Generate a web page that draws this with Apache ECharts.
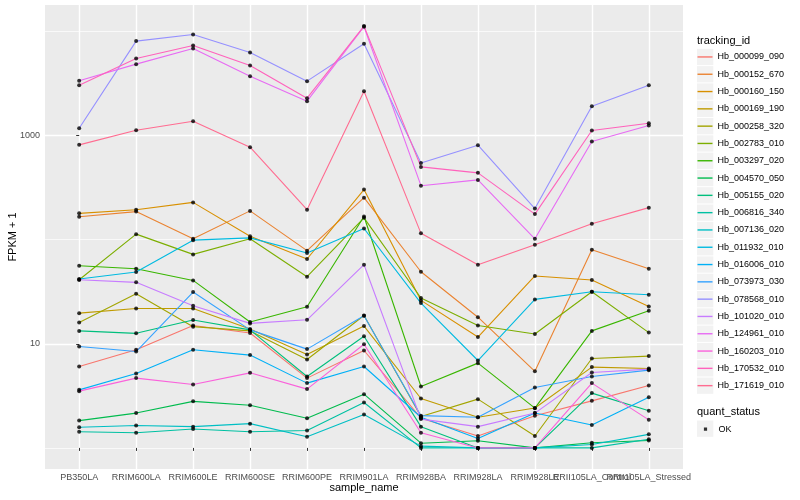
<!DOCTYPE html>
<html><head><meta charset="utf-8">
<script src="https://cdn.jsdelivr.net/npm/echarts@6/dist/echarts.min.js"></script>
<style>html,body{margin:0;padding:0;background:#fff}#c{width:800px;height:500px}</style>
</head><body><div id="c"></div>
<script>
// ---------- data ----------
const categories = ['PB350LA','RRIM600LA','RRIM600LE','RRIM600SE','RRIM600PE','RRIM901LA','RRIM928BA','RRIM928LA','RRIM928LE','RRII105LA_Control','RRII105LA_Stressed'];
const trackingIds = ['Hb_000099_090','Hb_000152_670','Hb_000160_150','Hb_000169_190','Hb_000258_320','Hb_002783_010','Hb_003297_020','Hb_004570_050','Hb_005155_020','Hb_006816_340','Hb_007136_020','Hb_011932_010','Hb_016006_010','Hb_073973_030','Hb_078568_010','Hb_101020_010','Hb_124961_010','Hb_160203_010','Hb_170532_010','Hb_171619_010'];
// FPKM + 1 per sample
const hb_000099_090 = [6.05, 8.75, 15.0, 12.7, 4.68, 8.62, 1.93, 1.30, 2.04, 2.83, 3.97];
const hb_000152_670 = [166, 186, 102, 189, 78.4, 253, 49.2, 18.0, 5.44, 80.1, 52.6];
const hb_000160_150 = [179, 194, 228, 108, 65.2, 303, 26.1, 11.6, 44.8, 41.0, 22.8];
const hb_000169_190 = [19.7, 21.8, 21.8, 13.9, 7.89, 14.8, 2.98, 1.97, 2.42, 5.97, 5.79];
const hb_000258_320 = [16.0, 30.3, 14.6, 13.3, 7.06, 18.7, 2.00, 2.94, 1.30, 7.22, 7.62];
const hb_002783_010 = [41.2, 113, 72.2, 102, 44.1, 162, 27.5, 15.0, 12.4, 31.6, 12.8];
const hb_003297_020 = [56.2, 52.6, 40.6, 16.2, 22.7, 167, 3.89, 6.52, 2.41, 13.3, 20.8];
const hb_004570_050 = [1.83, 2.16, 2.80, 2.57, 1.93, 3.28, 1.11, 1.17, 1.00, 1.12, 1.18];
const hb_005155_020 = [13.3, 12.6, 16.9, 13.6, 4.85, 11.8, 1.60, 1.00, 1.00, 3.36, 2.27];
const hb_006816_340 = [1.43, 1.40, 1.52, 1.43, 1.47, 2.73, 1.00, 1.00, 1.00, 1.00, 1.21];
const hb_007136_020 = [1.58, 1.64, 1.60, 1.71, 1.28, 2.09, 1.04, 1.00, 1.00, 1.08, 1.35];
const hb_011932_010 = [41.9, 48.9, 98.9, 104, 74.5, 128, 24.6, 6.91, 26.7, 31.6, 29.6];
const hb_016006_010 = [3.61, 5.18, 8.75, 7.79, 4.19, 6.05, 1.97, 1.23, 2.16, 1.66, 3.07];
const hb_073973_030 = [9.42, 8.43, 31.4, 13.6, 8.89, 18.6, 2.04, 1.97, 3.80, 4.85, 5.58];
const hb_078568_010 = [1175, 8070, 9355, 6280, 3330, 7620, 546, 807, 199, 1914, 3047];
const hb_101020_010 = [41.2, 38.9, 23.2, 15.7, 17.0, 57.5, 1.89, 1.60, 2.16, 5.30, 5.71];
const hb_124961_010 = [3357, 4850, 6867, 3717, 2137, 11100, 330, 375, 102, 876, 1248];
const hb_160203_010 = [3.51, 4.68, 4.06, 5.26, 3.67, 9.89, 1.40, 1.00, 1.00, 4.19, 1.86];
const hb_170532_010 = [3047, 5500, 7330, 4710, 2284, 11250, 500, 438, 176, 1117, 1313];
const hb_171619_010 = [814, 1125, 1372, 772, 194, 2667, 115, 57.5, 89.5, 142, 203];
const seriesValues = [hb_000099_090, hb_000152_670, hb_000160_150, hb_000169_190, hb_000258_320, hb_002783_010, hb_003297_020, hb_004570_050, hb_005155_020, hb_006816_340, hb_007136_020, hb_011932_010, hb_016006_010, hb_073973_030, hb_078568_010, hb_101020_010, hb_124961_010, hb_160203_010, hb_170532_010, hb_171619_010];
const quantStatus = 'OK';
const yBreaks = [10, 1000];          // labelled breaks
const yMinorBreaks = [1, 100, 10000];
const yTickLabels = ['10', '1000'];

// ---------- style ----------
const palette = ['#F8766D','#EA8331','#D89000','#C09B00','#A3A500','#7CAE00','#39B600','#00BB4E','#00BF7D','#00C1A3','#00BFC4','#00BAE0','#00B0F6','#35A2FF','#9590FF','#C77CFF','#E76BF3','#FA62DB','#FF62BC','#FF6C91'];
const FONT = '"Liberation Sans", Arial, Helvetica, sans-serif';

const allLogs = [].concat(...seriesValues).map(v => Math.log10(v));
const lo = Math.min(...allLogs), hi = Math.max(...allLogs);
const padY = (hi - lo) * 0.05;
const yMin = lo - padY, yMax = hi + padY;
const xMin = -0.6, xMax = categories.length - 1 + 0.6;
const catIdx = categories.map((c, i) => i);

const lineSeries = trackingIds.map((id, k) => ({
  name: id, type: 'line', color: palette[k], symbol: 'none', showSymbol: false,
  lineStyle: { width: 1.1, color: palette[k] },
  data: seriesValues[k].map((v, i) => [i, Math.log10(v)]),
  z: 2, silent: true
}));
const pts = [];
seriesValues.forEach(arr => arr.forEach((v, i) => pts.push([i, Math.log10(v)])));
const pointSeries = { name: quantStatus, type: 'scatter', symbol: 'circle', symbolSize: 4,
  itemStyle: { color: '#000000' }, data: pts, z: 3, silent: true };

const LEG_TOP = 48.3, LEG_STEP = 17.3;
const keyRects = trackingIds.map((id, k) => ({
  type: 'rect', shape: { x: 697, y: LEG_TOP + k * LEG_STEP + 0.5, width: 16.3, height: LEG_STEP - 1 },
  style: { fill: '#F2F2F2' }, silent: true
}));
const OK_TOP = 420.5;

const xLabelStyle = { formatter: v => categories[Math.round(v)], fontSize: 9, color: '#4D4D4D', margin: 4.5, fontFamily: FONT, showMinLabel: true, showMaxLabel: true, hideOverlap: false };

const chart = echarts.init(document.getElementById('c'), null, { renderer: 'canvas' });
chart.setOption({
  animation: false,
  backgroundColor: '#FFFFFF',
  textStyle: { fontFamily: FONT },
  grid: { left: 45, right: 117, top: 5, bottom: 31, show: true, backgroundColor: '#EBEBEB', borderWidth: 0, containLabel: false, outerBoundsMode: 'none' },
  xAxis: [{
    type: 'value', min: xMin, max: xMax, position: 'bottom',
    name: 'sample_name', nameLocation: 'middle', nameGap: 13, nameMoveOverlap: false,
    nameTextStyle: { fontSize: 11, color: '#000000', fontFamily: FONT },
    axisLine: { show: false },
    axisTick: { show: true, length: 3, lineStyle: { color: '#333333', width: 1 }, customValues: catIdx },
    axisLabel: Object.assign({ customValues: catIdx.filter(i => i % 2 === 0) }, xLabelStyle),
    splitLine: { show: true, lineStyle: { color: '#FFFFFF', width: 1.4 } }
  }, {
    type: 'value', min: xMin, max: xMax, position: 'bottom',
    axisLine: { show: false },
    axisTick: { show: false },
    axisLabel: Object.assign({ customValues: catIdx.filter(i => i % 2 === 1) }, xLabelStyle),
    splitLine: { show: false }
  }],
  yAxis: [{
    type: 'value', min: yMin, max: yMax,
    name: 'FPKM + 1', nameLocation: 'middle', nameGap: 27, nameMoveOverlap: false,
    nameTextStyle: { fontSize: 11, color: '#000000', fontFamily: FONT },
    axisLine: { show: false },
    axisTick: { show: true, length: 3, lineStyle: { color: '#333333', width: 1 }, customValues: yBreaks.map(Math.log10) },
    axisLabel: { customValues: yBreaks.map(Math.log10), formatter: v => yTickLabels[yBreaks.findIndex(b => Math.abs(Math.log10(b) - v) < 1e-6)], fontSize: 9, color: '#4D4D4D', margin: 5, fontFamily: FONT },
    splitLine: { show: true, lineStyle: { color: '#FFFFFF', width: 1.4 } }
  }, {
    type: 'value', min: yMin, max: yMax, position: 'left',
    axisLine: { show: false }, axisLabel: { show: false },
    axisTick: { show: false, customValues: yMinorBreaks.map(Math.log10) },
    splitLine: { show: true, lineStyle: { color: '#FFFFFF', width: 0.7 } }
  }],
  legend: [{
    data: trackingIds, orient: 'vertical', left: 697.5, top: LEG_TOP, padding: 0,
    icon: 'rect', itemWidth: 15, itemHeight: 1.4, itemGap: 0, selectedMode: false,
    textStyle: { fontSize: 9, color: '#000000', lineHeight: LEG_STEP, fontFamily: FONT }
  }, {
    data: [quantStatus], orient: 'vertical', left: 697.5, top: OK_TOP, padding: 0,
    icon: 'path://M0,0h0.01v0.01h-0.01z M6.4,6.4h3.2v3.2h-3.2z M15.99,15.99h0.01v0.01h-0.01z',
    itemWidth: 16, itemHeight: 16, itemGap: 0, selectedMode: false,
    textStyle: { fontSize: 9, color: '#000000', lineHeight: LEG_STEP, fontFamily: FONT }
  }],
  graphic: [
    ...keyRects,
    { type: 'rect', shape: { x: 697, y: OK_TOP, width: 16.3, height: 16.3 }, style: { fill: '#F2F2F2' }, silent: true },
    { type: 'text', x: 697, y: 40.5, style: { text: 'tracking_id', fontSize: 11, fill: '#000000', fontFamily: FONT, verticalAlign: 'middle' } },
    { type: 'text', x: 697, y: 412, style: { text: 'quant_status', fontSize: 11, fill: '#000000', fontFamily: FONT, verticalAlign: 'middle' } }
  ],
  series: [...lineSeries, pointSeries]
});
</script></body></html>
